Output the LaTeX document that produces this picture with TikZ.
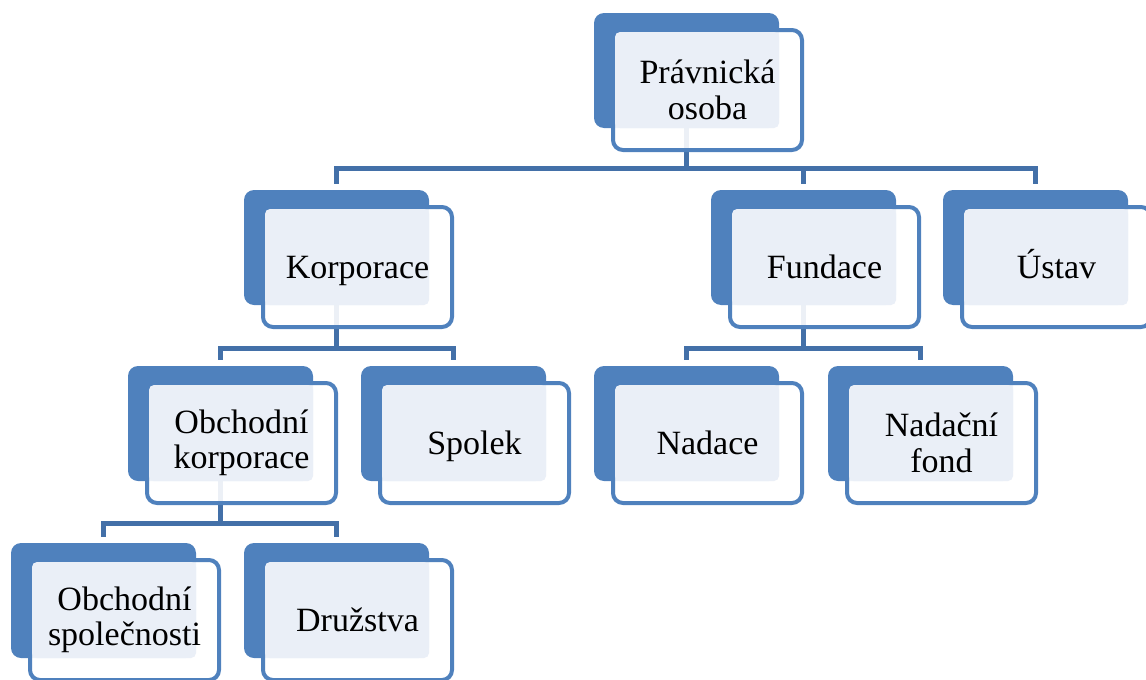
\documentclass[tikz,border=0pt]{standalone}
\usepackage{fontspec}
\setmainfont{Liberation Serif}
\usetikzlibrary{calc}
\pgfdeclarelayer{bg}
\pgfsetlayers{bg,main}
\definecolor{accent}{HTML}{4F81BD}
\definecolor{conncol}{HTML}{4370A8}
\definecolor{lightbox}{HTML}{EAEFF7}
\tikzset{
  backbox/.style={fill=accent, draw=none, rounded corners=10pt, minimum width=185pt, minimum height=115pt, inner sep=0pt, outer sep=0pt},
  frontbox/.style={draw=accent, line width=4pt, fill=white, fill opacity=0.9, rounded corners=10pt, minimum width=189pt, minimum height=120pt, inner sep=0pt, outer sep=0pt},
  lightfill/.style={fill=lightbox, rounded corners=5pt},
  txt/.style={font=\fontsize{34}{35.5}\selectfont, align=center, text=black, inner sep=0pt},
  oneline/.style={txt, text height=30.3pt, text depth=7.3pt},
  twoline/.style={txt},
  conn/.style={draw=conncol, line width=5pt, line join=miter, shorten >=6pt}
}
\newcommand{\orgitem}[5]{%
  \node[backbox, anchor=north west] (#1-b) at (#2,#3) {};
  \node[frontbox, anchor=north west] (#1) at ($(#1-b.north west)+(19,17)$) {};
  \fill[lightfill] ([shift={(2pt,-2pt)}]#1.north west) rectangle (#1-b.south east);
  \node[#4] (#1-t) at (#1.center) {#5};
}
\begin{document}
\begin{tikzpicture}[x=1pt,y=-1pt]
\clip (0,0) rectangle (1146,680);
\useasboundingbox (0,0) rectangle (1146,680);
\orgitem{root}{594}{13}{twoline}{Právnická\\osoba}
\orgitem{korp}{244}{190}{oneline}{Korporace}
\orgitem{fund}{711}{190}{oneline}{Fundace}
\orgitem{ustav}{943}{190}{oneline}{Ústav}
\orgitem{obk}{128}{366}{twoline}{Obchodní\\korporace}
\orgitem{spolek}{361}{366}{oneline}{Spolek}
\orgitem{nadace}{594}{366}{oneline}{Nadace}
\orgitem{nfond}{828}{366}{twoline}{Nadační\\fond}
\orgitem{obsp}{11}{543}{twoline}{Obchodní\\společnosti}
\orgitem{druz}{244}{543}{oneline}{Družstva}
\begin{pgfonlayer}{bg}
  \draw[conn] (root-b.south) -- ++(0,40) -| (korp-b.north);
  \draw[conn] (root-b.south) -- ++(0,40) -| (fund-b.north);
  \draw[conn] (root-b.south) -- ++(0,40) -| (ustav-b.north);
  \draw[conn] (korp-b.south) -- ++(0,43) -| (obk-b.north);
  \draw[conn] (korp-b.south) -- ++(0,43) -| (spolek-b.north);
  \draw[conn] (fund-b.south) -- ++(0,43) -| (nadace-b.north);
  \draw[conn] (fund-b.south) -- ++(0,43) -| (nfond-b.north);
  \draw[conn] (obk-b.south) -- ++(0,42) -| (obsp-b.north);
  \draw[conn] (obk-b.south) -- ++(0,42) -| (druz-b.north);
\end{pgfonlayer}
\end{tikzpicture}
\end{document}
